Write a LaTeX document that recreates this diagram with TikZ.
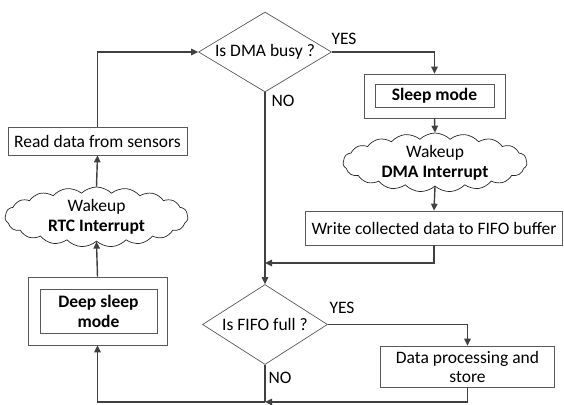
\documentclass[tikz,border=0pt]{standalone}
\usepackage{fontspec}
\setmainfont{Carlito}
\usetikzlibrary{shapes.geometric,shapes.symbols,arrows.meta}
\begin{document}
\begin{tikzpicture}[x=1pt,y=-1pt,
  font=\fontsize{17.5}{20}\selectfont,
  box/.style={draw=black!65, line width=0.7pt, rectangle, inner sep=0pt, align=center},
  dia/.style={draw=black!65, line width=0.7pt, diamond, inner sep=0pt, aspect=1.6},
  cld/.style={draw=black!85, line width=0.7pt, cloud, cloud puffs=19, cloud puff arc=90, cloud ignores aspect, inner sep=0pt, align=center},
  line/.style={draw=black!75, line width=1.4pt},
  conn/.style={line, -{Triangle[length=7pt,width=6.5pt]}},
  lbl/.style={inner sep=0pt}
]
\useasboundingbox (0,0) rectangle (564,404);
% decisions
\node[dia, minimum width=133, minimum height=80] (d1) at (265,52) {Is DMA busy ?};
\node[dia, minimum width=125, minimum height=80] (d2) at (265,324.5) {Is FIFO full ?};
% right column
\node[box, minimum width=141, minimum height=44] (sleep) at (434.5,96) {};
\node[box, minimum width=119, minimum height=23, font=\fontsize{17.5}{20}\selectfont\bfseries] (sleepin) at (434.5,95.5) {Sleep mode};
\node[cld, minimum width=184, minimum height=56] (c1) at (435,162.5) {Wakeup\\\textbf{DMA Interrupt}};
\node[box, minimum width=257, minimum height=34] (write) at (434,228) {Write collected data to FIFO buffer};
\node[box, minimum width=174, minimum height=41, font=\fontsize{17.5}{19}\selectfont] (data) at (467.5,366.5) {Data processing and\\store};
% left column
\node[box, minimum width=179, minimum height=28] (read) at (97.5,141) {Read data from sensors};
\node[cld, minimum width=183, minimum height=60] (c2) at (96.5,217) {Wakeup\\\textbf{RTC Interrupt}};
\node[box, minimum width=139, minimum height=68] (deep) at (97.5,311) {};
\node[box, minimum width=117, minimum height=44, font=\fontsize{17.5}{20}\selectfont\bfseries] (deepin) at (98.5,311) {Deep sleep\\mode};
% junctions
\coordinate (j1) at (265,263);
\coordinate (j2) at (265,402);
% labels
\node[lbl] (yes1) at (344,39) {YES};
\node[lbl] (no1) at (283,101) {NO};
\node[lbl] (yes2) at (342,308) {YES};
\node[lbl] (no2) at (280,378) {NO};
% connectors
\draw[conn] (read.north) |- (d1.west);
\draw[conn] (d1.east) -| (sleep.north);
\draw[conn] (sleep.south) -- (c1.north);
\draw[conn] (c1.south) -- (write.north);
\draw[conn] (write.south) |- (j1);
\draw[conn] (d1.south) -- (d2.north);
\draw[conn] (d2.east) -| (data.north);
\draw[conn] (data.south) |- (j2);
\draw[line] (d2.south) -- (j2);
\draw[conn] (j2) -| (deep.south);
\draw[conn] (deep.north) -- (c2.south);
\draw[conn] (c2.north) -- (read.south);
\end{tikzpicture}
\end{document}
